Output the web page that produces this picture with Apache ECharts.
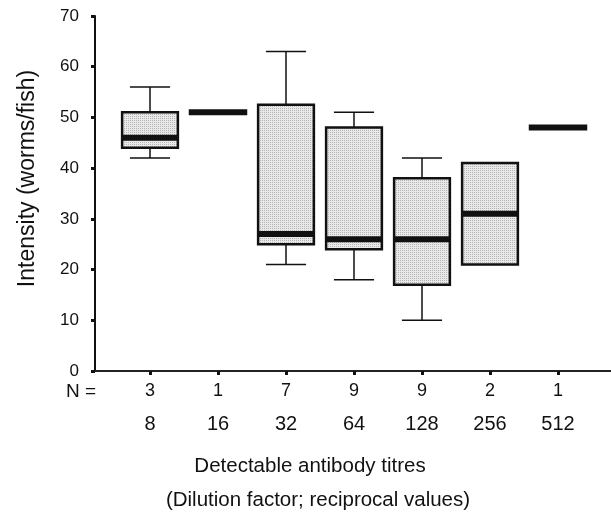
<!DOCTYPE html>
<html>
<head>
<meta charset="utf-8">
<script src="https://cdn.jsdelivr.net/npm/echarts@6/dist/echarts.min.js"></script>
<style>
  html, body { margin: 0; padding: 0; background: #fff; }
  #chart { width: 611px; height: 513px; }
</style>
</head>
<body>
<div id="chart"></div>
<script>
// data
var titres = ['8', '16', '32', '64', '128', '256', '512'];
var nValues = [3, 1, 7, 9, 9, 2, 1];
var whiskerLow = [42, 51, 21, 18, 10, 21, 48];
var q1 = [44, 51, 25, 24, 17, 21, 48];
var median = [46, 51, 27, 26, 26, 31, 48];
var q3 = [51, 51, 52.5, 48, 38, 41, 48];
var whiskerHigh = [56, 51, 63, 51, 42, 41, 48];
var yTicks = [0, 10, 20, 30, 40, 50, 60, 70];

var font = 'Liberation Sans, Arial, Helvetica, sans-serif';

// stippled grey fill like the printed boxes
var pat = document.createElement('canvas');
pat.width = 2; pat.height = 2;
var pctx = pat.getContext('2d');
pctx.fillStyle = '#e9e9e9';
pctx.fillRect(0, 0, 2, 2);
pctx.fillStyle = '#b4b4b4';
pctx.fillRect(0, 0, 1, 1);

var boxData = [];
for (var i = 0; i < titres.length; i++) {
    boxData.push([i, whiskerLow[i], q1[i], median[i], q3[i], whiskerHigh[i]]);
}

function renderBox(params, api) {
    var x = api.value(0);
    var band = api.size([1, 0])[0];
    var lo = api.coord([x, api.value(1)]);
    var b1 = api.coord([x, api.value(2)]);
    var md = api.coord([x, api.value(3)]);
    var b3 = api.coord([x, api.value(4)]);
    var hi = api.coord([x, api.value(5)]);
    var cx = md[0];
    var boxW = band * 0.82;
    var capW = band * 0.59;
    var kids = [];

    if (api.value(2) === api.value(4)) {
        // single observation: just the heavy bar
        kids.push({
            type: 'rect',
            shape: { x: cx - band * 0.43, y: md[1] - 3, width: band * 0.86, height: 6 },
            style: { fill: '#111' }
        });
        return { type: 'group', children: kids };
    }

    var wStyle = { stroke: '#111', lineWidth: 1.5 };
    if (api.value(5) > api.value(4)) {
        kids.push({ type: 'line', shape: { x1: cx, y1: b3[1], x2: cx, y2: hi[1] }, style: wStyle });
        kids.push({ type: 'line', shape: { x1: cx - capW / 2, y1: hi[1], x2: cx + capW / 2, y2: hi[1] }, style: wStyle });
    }
    if (api.value(1) < api.value(2)) {
        kids.push({ type: 'line', shape: { x1: cx, y1: b1[1], x2: cx, y2: lo[1] }, style: wStyle });
        kids.push({ type: 'line', shape: { x1: cx - capW / 2, y1: lo[1], x2: cx + capW / 2, y2: lo[1] }, style: wStyle });
    }
    kids.push({
        type: 'rect',
        shape: { x: cx - boxW / 2, y: b3[1], width: boxW, height: b1[1] - b3[1] },
        style: { fill: { image: pat, repeat: 'repeat' }, stroke: '#111', lineWidth: 2.5 }
    });
    kids.push({
        type: 'rect',
        shape: { x: cx - boxW / 2, y: md[1] - 3, width: boxW, height: 6 },
        style: { fill: '#111' }
    });
    return { type: 'group', children: kids };
}

var myChart = echarts.init(document.getElementById('chart'), null, { renderer: 'canvas' });

var option = {
    backgroundColor: '#fff',
    animation: false,
    grid: [
        { left: 95, right: 0, top: 16, bottom: 142 },
        { left: 116, width: 476, top: 16, bottom: 142 }
    ],
    xAxis: [
        {
            // long baseline of the frame
            type: 'value', gridIndex: 0, min: 0, max: 1,
            axisLine: { show: true, lineStyle: { color: '#222', width: 2 } },
            axisTick: { show: false }, axisLabel: { show: false }, splitLine: { show: false }
        },
        {
            type: 'category', gridIndex: 1, data: titres,
            axisLine: { show: false },
            axisTick: { show: true, alignWithLabel: true, length: 4, lineStyle: { color: '#111', width: 3 } },
            axisLabel: {
                margin: 11, fontFamily: font, fontSize: 18, color: '#111',
                formatter: function (v, idx) { return String(nValues[idx]); }
            },
            splitLine: { show: false }
        },
        {
            type: 'category', gridIndex: 1, data: titres, position: 'bottom',
            axisLine: { show: false }, axisTick: { show: false },
            axisLabel: { margin: 43, fontFamily: font, fontSize: 20, color: '#111' },
            splitLine: { show: false }
        }
    ],
    yAxis: [
        {
            type: 'value', gridIndex: 0, min: yTicks[0], max: yTicks[yTicks.length - 1], interval: 10,
            name: 'Intensity (worms/fish)',
            nameLocation: 'middle', nameGap: 56,
            nameTextStyle: { fontFamily: font, fontSize: 23, color: '#111', padding: [0, 0, 0, 30] },
            axisLine: { show: true, lineStyle: { color: '#111', width: 2 } },
            axisTick: { show: true, length: 4, lineStyle: { color: '#111', width: 3 } },
            axisLabel: { margin: 16, fontFamily: font, fontSize: 17, color: '#111' },
            splitLine: { show: false }
        },
        {
            type: 'value', gridIndex: 1, min: yTicks[0], max: yTicks[yTicks.length - 1],
            show: false
        }
    ],
    graphic: [
        {
            type: 'text', left: 66, top: 382,
            style: { text: 'N =', font: '19px ' + font, fill: '#111' }
        },
        {
            type: 'text', x: 310, y: 466,
            style: { text: 'Detectable antibody titres', font: '20.5px ' + font, fill: '#111',
                     textAlign: 'center', textVerticalAlign: 'middle' }
        },
        {
            type: 'text', x: 318, y: 500,
            style: { text: '(Dilution factor; reciprocal values)', font: '20.5px ' + font, fill: '#111',
                     textAlign: 'center', textVerticalAlign: 'middle' }
        }
    ],
    series: [
        {
            type: 'custom',
            xAxisIndex: 1, yAxisIndex: 1,
            renderItem: renderBox,
            encode: { x: 0, y: [1, 2, 3, 4, 5] },
            data: boxData
        }
    ]
};

myChart.setOption(option);
</script>
</body>
</html>
